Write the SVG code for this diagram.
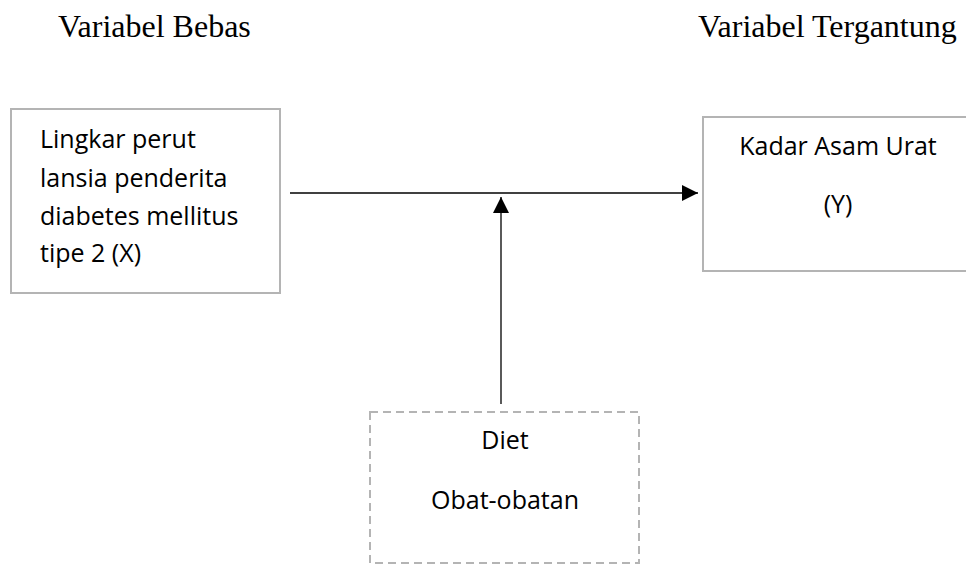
<svg xmlns="http://www.w3.org/2000/svg" width="966" height="565" viewBox="0 0 966 565">
<style>
.hdr{font-family:"Liberation Serif","Times New Roman",serif;font-size:32px;fill:#000}
.t{font-family:"Open Sans","Noto Sans",sans-serif;font-size:25px;fill:#000}
.box{fill:#fff;stroke:#b4b4b4;stroke-width:2}
.dash{fill:#fff;stroke:#b4b4b4;stroke-width:2;stroke-dasharray:8,5}
.ln{stroke:#000;stroke-width:1.3;fill:none}
</style>
<defs>
<marker id="ah" viewBox="0 0 10 10" refX="10" refY="5" markerWidth="16" markerHeight="16" markerUnits="userSpaceOnUse" orient="auto">
<path d="M0,0 L10,5 L0,10 z" fill="#000"/>
</marker>
</defs>
<text class="hdr" x="58" y="37">Variabel Bebas</text>
<text class="hdr" x="698" y="37">Variabel Tergantung</text>
<g id="node-x">
<rect class="box" x="11" y="109" width="269" height="184"/>
<text class="t" x="40" y="148">Lingkar perut</text>
<text class="t" x="40" y="187">lansia penderita</text>
<text class="t" x="40" y="225">diabetes mellitus</text>
<text class="t" x="40" y="262">tipe 2 (X)</text>
</g>
<g id="node-y">
<rect class="box" x="703" y="117" width="280" height="154"/>
<text class="t" x="838" y="155" text-anchor="middle">Kadar Asam Urat</text>
<text class="t" x="838" y="213" text-anchor="middle">(Y)</text>
</g>
<g id="node-confounder">
<rect class="dash" x="370" y="412" width="269" height="151"/>
<text class="t" x="505" y="449" text-anchor="middle">Diet</text>
<text class="t" x="505" y="509" text-anchor="middle">Obat-obatan</text>
</g>
<g id="connectors">
<line class="ln" x1="290" y1="193" x2="698" y2="193" marker-end="url(#ah)"/>
<line class="ln" x1="501" y1="404" x2="501" y2="197" marker-end="url(#ah)"/>
</g>
</svg>
